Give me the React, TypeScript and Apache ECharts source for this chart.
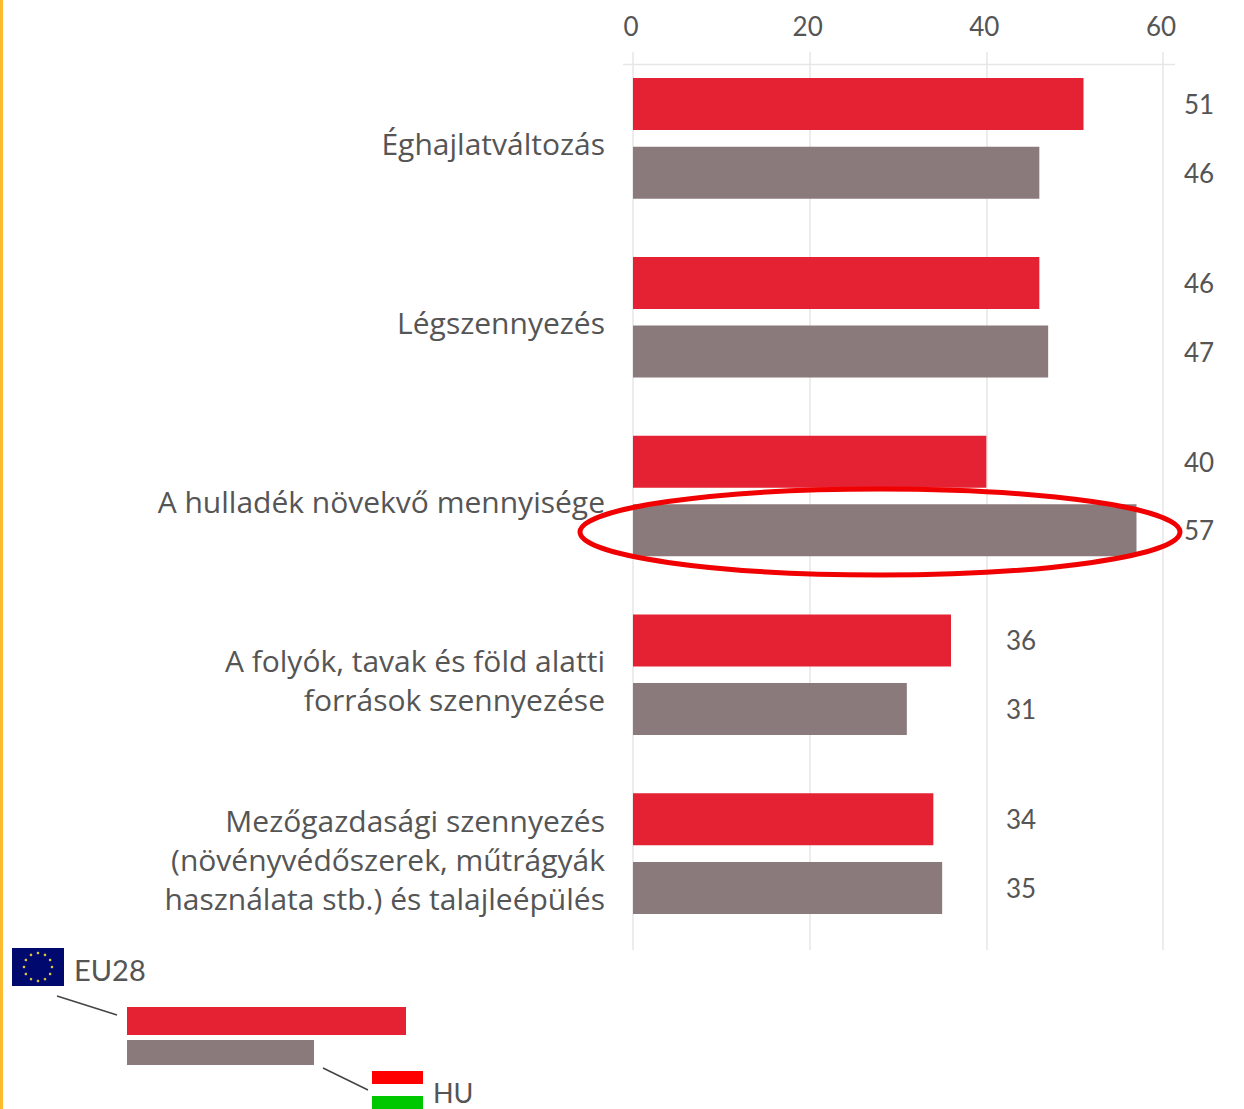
import React, { useEffect, useRef } from "react";
import * as echarts from "echarts";

const categories = [
  "Éghajlatváltozás",
  "Légszennyezés",
  "A hulladék növekvő mennyisége",
  "A folyók, tavak és föld alatti\nforrások szennyezése",
  "Mezőgazdasági szennyezés\n(növényvédőszerek, műtrágyák\nhasználata stb.) és talajleépülés",
];
const eu28 = [51, 46, 40, 36, 34];
const hu = [46, 47, 57, 31, 35];
const ticks = [0, 20, 40, 60];

const FONT = "Lato";
const CAT_FONT = "Open Sans";
const TEXT = "#555555";
const RED = "#e52233";
const GREY = "#8a7a7c";
const PLOT_LEFT = 633;
const PLOT_WIDTH = 530;
const AXIS_MAX = 60;
const PX = PLOT_WIDTH / AXIS_MAX;

const labelled = (vals: number[]) =>
  vals.map((v, i) => ({
    value: v,
    label: {
      show: true,
      position: "right" as const,
      distance: 0,
      offset: [(i < 3 ? 1184 : 1006) - (PLOT_LEFT + v * PX), 0],
      color: TEXT,
      fontFamily: FONT,
      fontSize: 26,
    },
  }));

const stars = Array.from({ length: 12 }, (_, i) => {
  const a = (i * Math.PI) / 6;
  return {
    type: "circle",
    z: 101,
    shape: { cx: 38 + 14 * Math.sin(a), cy: 967 - 14 * Math.cos(a), r: 1.3 },
    style: { fill: "#d9c63a" },
  };
});

export default function App() {
  const ref = useRef<HTMLDivElement>(null);
  useEffect(() => {
    document.body.style.margin = "0";
    const chart = echarts.init(ref.current!, null, { renderer: "svg" });
    chart.setOption({
      animation: false,
      backgroundColor: "#ffffff",
      grid: [
        { left: PLOT_LEFT, width: PLOT_WIDTH, top: 52, height: 898 },
        { left: PLOT_LEFT, width: PLOT_WIDTH, top: 49, height: 894 },
        { left: PLOT_LEFT, width: PLOT_WIDTH, top: 54.5, height: 894 },
      ],
      xAxis: [
        {
          gridIndex: 0,
          type: "value",
          position: "top",
          min: 0,
          max: AXIS_MAX,
          interval: 20,
          axisLine: { show: false },
          axisTick: { show: false },
          splitLine: { show: true, lineStyle: { color: "#e6e6e6", width: 1.5 } },
          axisLabel: {
            margin: 13,
            color: TEXT,
            fontFamily: FONT,
            fontSize: 26,
            padding: [0, 4, 0, 0],
            formatter: (v: number) => (ticks.includes(v) ? String(v) : ""),
          },
        },
        { gridIndex: 1, type: "value", min: 0, max: AXIS_MAX, show: false },
        { gridIndex: 2, type: "value", min: 0, max: AXIS_MAX, show: false },
      ],
      yAxis: [
        { gridIndex: 0, type: "category", data: categories, show: false, inverse: true },
        { gridIndex: 1, type: "category", data: categories, show: false, inverse: true },
        {
          gridIndex: 2,
          type: "category",
          data: categories,
          inverse: true,
          axisLine: { show: false },
          axisTick: { show: false },
          axisLabel: {
            margin: 28,
            color: TEXT,
            fontFamily: CAT_FONT,
            fontSize: 30,
            lineHeight: 39,
            align: "right",
          },
        },
      ],
      series: [
        {
          name: "EU28",
          type: "bar",
          xAxisIndex: 1,
          yAxisIndex: 1,
          barWidth: 52,
          barGap: "32%",
          itemStyle: { color: RED },
          data: labelled(eu28),
        },
        {
          name: "HU",
          type: "bar",
          xAxisIndex: 1,
          yAxisIndex: 1,
          barWidth: 52,
          barGap: "32%",
          itemStyle: { color: GREY },
          data: labelled(hu),
        },
      ],
      graphic: [
        { type: "rect", z: 100, shape: { x: 0, y: 0, width: 3, height: 1109 }, style: { fill: "#fdbb30" } },
        { type: "line", z: 1, shape: { x1: 623, y1: 64.5, x2: 1175, y2: 64.5 }, style: { stroke: "#e6e6e6", lineWidth: 1.5 } },
        { type: "ellipse", z: 100, shape: { cx: 880, cy: 532, rx: 300, ry: 43 }, style: { fill: "none", stroke: "#f00000", lineWidth: 5 } },
        { type: "rect", z: 100, shape: { x: 12, y: 948, width: 52, height: 38 }, style: { fill: "#00096e" } },
        ...stars,
        { type: "text", z: 100, x: 74, y: 969, style: { text: "EU28", fill: TEXT, font: `29px ${FONT}`, verticalAlign: "middle" } },
        { type: "line", z: 100, shape: { x1: 57, y1: 996, x2: 117, y2: 1015 }, style: { stroke: "#444444", lineWidth: 1.5 } },
        { type: "rect", z: 100, shape: { x: 127, y: 1007, width: 279, height: 28 }, style: { fill: RED } },
        { type: "rect", z: 100, shape: { x: 127, y: 1040, width: 187, height: 25 }, style: { fill: GREY } },
        { type: "line", z: 100, shape: { x1: 323, y1: 1068, x2: 368, y2: 1090 }, style: { stroke: "#444444", lineWidth: 1.5 } },
        { type: "rect", z: 100, shape: { x: 372, y: 1071, width: 51, height: 13 }, style: { fill: "#ff0000" } },
        { type: "rect", z: 100, shape: { x: 372, y: 1096, width: 51, height: 13 }, style: { fill: "#00c800" } },
        { type: "text", z: 100, x: 433, y: 1092, style: { text: "HU", fill: TEXT, font: `27px ${FONT}`, verticalAlign: "middle" } },
      ],
    });
    return () => chart.dispose();
  }, []);
  return <div ref={ref} style={{ position: "fixed", left: 0, top: 0, width: 1244, height: 1109 }} />;
}
